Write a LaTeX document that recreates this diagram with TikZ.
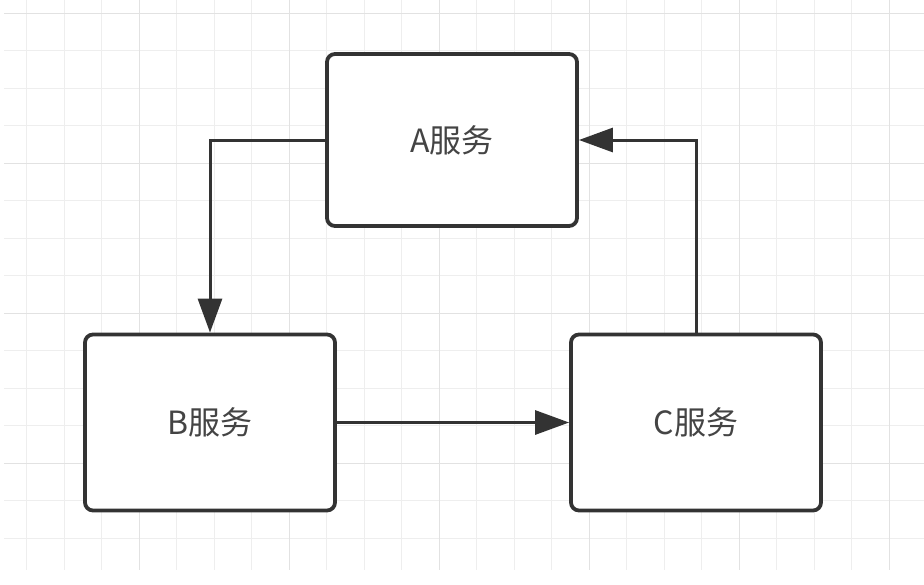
\documentclass[tikz,border=0pt]{standalone}
\usepackage{fontspec}
\newfontfamily\cjk{Noto Sans CJK SC}
\usetikzlibrary{arrows.meta}
\definecolor{linegray}{HTML}{333333}
\definecolor{textgray}{HTML}{444444}
\definecolor{gridminor}{HTML}{EEEEEE}
\definecolor{gridmajor}{HTML}{E2E2E2}
\tikzset{
  service/.style={draw=linegray, line width=3.8pt, rounded corners=8pt, fill=white,
    minimum width=250pt, font=\cjk\fontsize{32}{38}\selectfont, text=textgray},
  flow/.style={draw=linegray, line width=3pt, -{Triangle[length=34pt,width=24pt]}},
}
\begin{document}
\begin{tikzpicture}[x=1pt,y=-1pt]
  \useasboundingbox[fill=white] (0,0) rectangle (924,584);
  % background grid
  \foreach \k in {0,...,23} {\draw[gridminor, line width=1.3pt] (26.7+37.5*\k,0) -- (26.7+37.5*\k,570);}
  \foreach \k in {0,...,14} {\draw[gridminor, line width=1.3pt] (4,13.3+37.5*\k) -- (924,13.3+37.5*\k);}
  \foreach \k in {3,7,...,23} {\draw[gridmajor, line width=1.3pt] (26.7+37.5*\k,0) -- (26.7+37.5*\k,570);}
  \foreach \k in {0,4,...,12} {\draw[gridmajor, line width=1.3pt] (4,13.3+37.5*\k) -- (924,13.3+37.5*\k);}
  % services
  \node[service, minimum height=172pt] (A) at (452,140) {A服务};
  \node[service, minimum height=176pt] (B) at (210,422.5) {B服务};
  \node[service, minimum height=176pt] (C) at (696,422.5) {C服务};
  % calls
  \draw[flow] (A.west) -| (B.north);
  \draw[flow] (B.east) -- (C.west);
  \draw[flow] (C.north) |- (A.east);
\end{tikzpicture}
\end{document}
